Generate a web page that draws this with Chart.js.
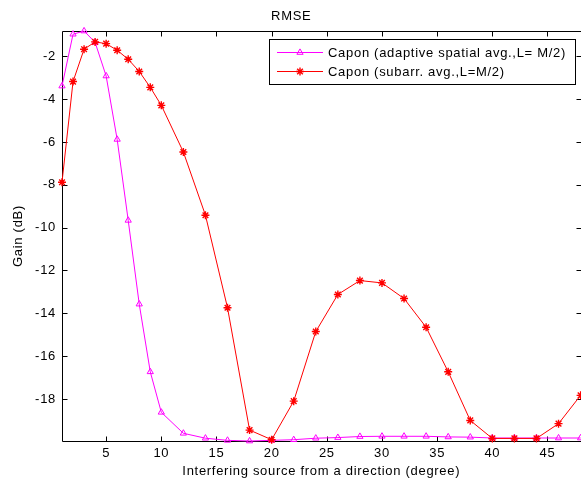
<!DOCTYPE html>
<html>
<head>
<meta charset="utf-8">
<script src="https://cdn.jsdelivr.net/npm/chart.js@4/dist/chart.umd.min.js"></script>
<style>
  html, body { margin: 0; padding: 0; background: #fff; overflow: hidden; }
  #wrap { width: 586px; height: 485px; }
</style>
</head>
<body>
<div id="wrap"><canvas id="c" width="586" height="485"></canvas></div>
<script>
// Interfering source direction (degree)
const directions = [1, 2, 3, 4, 5, 6, 7, 8, 9, 10, 12, 14, 16, 18, 20, 22, 24, 26, 28, 30, 32, 34, 36, 38, 40, 42, 44, 46, 48];

// Gain (dB) for each beamformer
const adaptiveGain = [-3.39, -0.97, -0.82, -1.35, -2.92, -5.88, -9.66, -13.57, -16.73, -18.62,
  -19.60, -19.83, -19.93, -19.96, -19.93, -19.90, -19.83, -19.80, -19.75, -19.74,
  -19.74, -19.74, -19.77, -19.78, -19.82, -19.82, -19.82, -19.82, -19.82];
const subarrayGain = [-7.88, -3.18, -1.67, -1.33, -1.41, -1.72, -2.14, -2.71, -3.45, -4.29,
  -6.47, -9.42, -13.74, -19.45, -19.90, -18.10, -14.85, -13.12, -12.47, -12.58,
  -13.31, -14.65, -16.73, -19.00, -19.84, -19.84, -19.84, -19.15, -17.83];

const seriesNames = ['Capon (adaptive spatial avg.,L= M/2)', 'Capon (subarr. avg.,L=M/2)'];
const xTickValues = [5, 10, 15, 20, 25, 30, 35, 40, 45];
const yTickValues = [-18, -16, -14, -12, -10, -8, -6, -4, -2];
const chartTitle = 'RMSE';
const xAxisTitle = 'Interfering source from a direction (degree)';
const yAxisTitle = 'Gain (dB)';

const FONT_FAMILY = '"Liberation Sans", Arial, Helvetica, sans-serif';
const FONT_SIZE = 13;
const LETTER_SPACING = '0.7px';
const TICK_LEN = 5;

const toPoints = (ys) => directions.map((x, i) => ({ x: x, y: ys[i] }));

// MATLAB-style box with inward ticks on all four sides
const axesBox = {
  id: 'axesBox',
  beforeDraw(chart) {
    chart.ctx.letterSpacing = LETTER_SPACING;
  },
  beforeDatasetsDraw(chart) {
    const { ctx, chartArea: a, scales } = chart;
    const L = Math.round(a.left) + 0.5, R = Math.round(a.right) + 0.5;
    const T = Math.round(a.top) + 0.5, B = Math.round(a.bottom) + 0.5;
    ctx.save();
    ctx.strokeStyle = '#000';
    ctx.lineWidth = 1;
    ctx.beginPath();
    ctx.rect(L, T, R - L, B - T);
    xTickValues.forEach(v => {
      const px = Math.round(scales.x.getPixelForValue(v)) + 0.5;
      ctx.moveTo(px, B); ctx.lineTo(px, B - TICK_LEN);
      ctx.moveTo(px, T); ctx.lineTo(px, T + TICK_LEN);
    });
    yTickValues.forEach(v => {
      const py = Math.round(scales.y.getPixelForValue(v)) + 0.5;
      ctx.moveTo(L, py); ctx.lineTo(L + TICK_LEN, py);
      ctx.moveTo(R, py); ctx.lineTo(R - TICK_LEN, py);
    });
    ctx.stroke();
    ctx.restore();
  }
};

// Boxed legend inside the upper right of the axes
const boxedLegend = {
  id: 'boxedLegend',
  afterDatasetsDraw(chart) {
    const ctx = chart.ctx;
    const x0 = 269.5, y0 = 39.5, x1 = 575.5, y1 = 84.5;
    const rows = [52.5, 71.5];
    ctx.save();
    ctx.fillStyle = '#fff';
    ctx.strokeStyle = '#000';
    ctx.lineWidth = 1;
    ctx.fillRect(x0, y0, x1 - x0, y1 - y0);
    ctx.strokeRect(x0, y0, x1 - x0, y1 - y0);
    chart.data.datasets.forEach((ds, i) => {
      const y = rows[i];
      ctx.strokeStyle = ds.borderColor;
      ctx.lineWidth = ds.borderWidth;
      ctx.beginPath();
      ctx.moveTo(277, y); ctx.lineTo(323, y);
      ctx.stroke();
      ctx.fillStyle = ds.pointBackgroundColor;
      ctx.strokeStyle = ds.pointBorderColor;
      ctx.lineWidth = ds.pointBorderWidth;
      Chart.helpers.drawPoint(ctx, { pointStyle: ds.pointStyle, rotation: 0, borderWidth: ds.pointBorderWidth, radius: ds.pointRadius }, 300, y);
      ctx.fillStyle = '#000';
      ctx.font = FONT_SIZE + 'px ' + FONT_FAMILY;
      ctx.textAlign = 'left';
      ctx.textBaseline = 'middle';
      ctx.fillText(ds.label, 328, y + 0.5);
    });
    ctx.restore();
  }
};

const fontSpec = { family: FONT_FAMILY, size: FONT_SIZE, lineHeight: 1.2 };

new Chart(document.getElementById('c'), {
  type: 'line',
  data: {
    datasets: [
      {
        label: seriesNames[0],
        data: toPoints(adaptiveGain),
        borderColor: '#ff00ff',
        borderWidth: 1,
        pointStyle: 'triangle',
        pointRadius: 3.6,
        pointBorderWidth: 1,
        pointBorderColor: '#ff00ff',
        pointBackgroundColor: 'rgba(0,0,0,0)',
        tension: 0,
        clip: false,
        order: 1
      },
      {
        label: seriesNames[1],
        data: toPoints(subarrayGain),
        borderColor: '#ff0000',
        borderWidth: 1,
        pointStyle: 'star',
        pointRadius: 4,
        pointBorderWidth: 1.4,
        pointBorderColor: '#ff0000',
        pointBackgroundColor: '#ff0000',
        tension: 0,
        clip: false,
        order: 0
      }
    ]
  },
  options: {
    responsive: false,
    animation: false,
    devicePixelRatio: 1,
    layout: { padding: { left: 0, right: 3.5, top: 0, bottom: 0 } },
    plugins: {
      legend: { display: false },
      tooltip: { enabled: false },
      title: {
        display: true,
        text: chartTitle,
        color: '#000',
        font: { family: FONT_FAMILY, size: FONT_SIZE, weight: 'normal', lineHeight: 1.2 },
        padding: { top: 8.5, bottom: 6.9 }
      }
    },
    scales: {
      x: {
        type: 'linear',
        min: 1,
        max: 48,
        grid: { display: false, drawTicks: false },
        border: { display: false },
        afterBuildTicks: (s) => { s.ticks = xTickValues.map(v => ({ value: v })); },
        afterFit: (s) => { s.height = 44; },
        ticks: { color: '#000', font: fontSpec, padding: 5, maxRotation: 0, autoSkip: false },
        title: { display: true, text: xAxisTitle, color: '#000', font: fontSpec, padding: { top: 0, bottom: 5.5 } }
      },
      y: {
        type: 'linear',
        min: -19.96,
        max: -0.82,
        grid: { display: false, drawTicks: false },
        border: { display: false },
        afterBuildTicks: (s) => { s.ticks = yTickValues.map(v => ({ value: v })); },
        afterFit: (s) => { s.width = 62; },
        ticks: { color: '#000', font: fontSpec, padding: 6, autoSkip: false },
        title: { display: true, text: yAxisTitle, color: '#000', font: fontSpec, padding: { top: 11, bottom: 0 } }
      }
    }
  },
  plugins: [axesBox, boxedLegend]
});
</script>
</body>
</html>
